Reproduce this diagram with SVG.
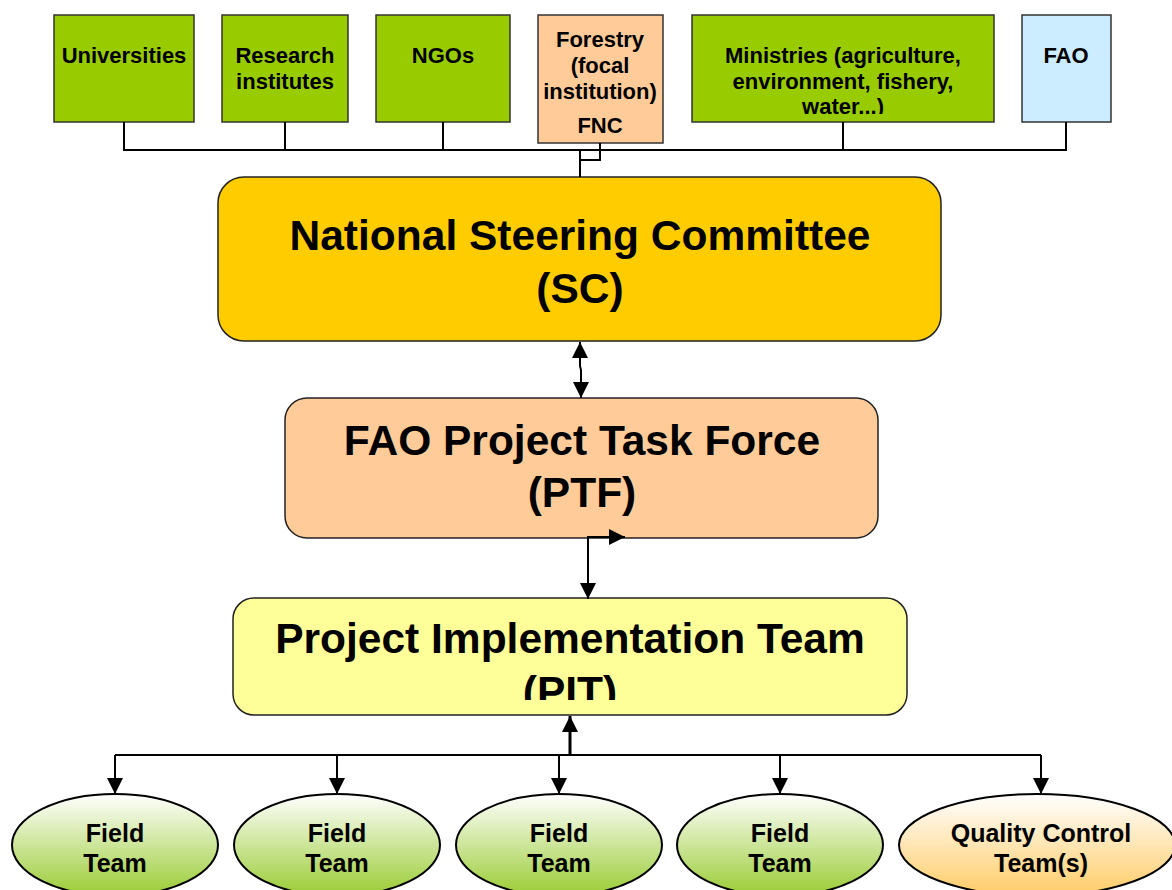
<svg xmlns="http://www.w3.org/2000/svg" width="1172" height="890" viewBox="0 0 1172 890">
<style>
  text { font-family: "Liberation Sans", Arial, sans-serif; font-weight: bold; fill: #000; text-anchor: middle; }
  .small { font-size: 22px; }
  .big { font-size: 42.5px; }
  .ell { font-size: 25px; }
  .box { stroke: #333; stroke-width: 1.5; }
  .green { fill: #99CC00; }
  .salmon { fill: #FFCC99; }
  .blue { fill: #CCECFF; }
  .main { stroke: #222; stroke-width: 1.5; }
  .conn { fill: none; stroke: #000; stroke-width: 2; }
  .ellipse { stroke: #000; stroke-width: 2; }
</style>
<defs>
  <marker id="arrow" viewBox="0 0 10 10" refX="10" refY="5" markerWidth="16" markerHeight="16" markerUnits="userSpaceOnUse" orient="auto-start-reverse">
    <path d="M0,0 L10,5 L0,10 z" fill="#000"/>
  </marker>
  <linearGradient id="gGreen" x1="0" y1="0" x2="0" y2="1">
    <stop offset="0" stop-color="#FFFFFF"/>
    <stop offset="1" stop-color="#99CC33"/>
  </linearGradient>
  <linearGradient id="gOrange" x1="0" y1="0" x2="0" y2="1">
    <stop offset="0" stop-color="#FFFFFF"/>
    <stop offset="1" stop-color="#FFCC66"/>
  </linearGradient>
  <clipPath id="clipMin"><rect x="692" y="15" width="302" height="99"/></clipPath>
  <clipPath id="clipPIT"><rect x="233" y="598" width="674" height="102"/></clipPath>
</defs>

<g id="universities">
  <rect class="box green" x="54" y="15" width="140" height="107"/>
  <text class="small" x="124" y="63">Universities</text>
</g>
<g id="research">
  <rect class="box green" x="222" y="15" width="126" height="107"/>
  <text class="small" x="285" y="63">Research</text>
  <text class="small" x="285" y="89">institutes</text>
</g>
<g id="ngos">
  <rect class="box green" x="376" y="15" width="134" height="107"/>
  <text class="small" x="443" y="63">NGOs</text>
</g>
<g id="forestry">
  <rect class="box salmon" x="538" y="15" width="125" height="128"/>
  <text class="small" x="600" y="47">Forestry</text>
  <text class="small" x="600" y="73">(focal</text>
  <text class="small" x="600" y="99">institution)</text>
  <text class="small" x="600" y="133">FNC</text>
</g>
<g id="ministries">
  <rect class="box green" x="692" y="15" width="302" height="107"/>
  <g clip-path="url(#clipMin)">
    <text class="small" x="843" y="63">Ministries (agriculture,</text>
    <text class="small" x="843" y="89">environment, fishery,</text>
    <text class="small" x="843" y="114">water...)</text>
  </g>
</g>
<g id="fao">
  <rect class="box blue" x="1022" y="15" width="89" height="107"/>
  <text class="small" x="1066" y="63">FAO</text>
</g>

<g id="sc">
  <rect class="main" x="218" y="177" width="723" height="164" rx="26" ry="26" fill="#FFCC00"/>
  <text class="big" x="580" y="250">National Steering Committee</text>
  <text class="big" x="580" y="303">(SC)</text>
</g>
<g id="ptf">
  <rect class="main" x="285" y="398" width="593" height="140" rx="22" ry="22" fill="#FFCC99"/>
  <text class="big" x="582" y="455">FAO Project Task Force</text>
  <text class="big" x="582" y="507">(PTF)</text>
</g>
<g id="pit">
  <rect class="main" x="233" y="598" width="674" height="117" rx="21" ry="21" fill="#FFFF99"/>
  <g clip-path="url(#clipPIT)">
    <text class="big" x="570" y="653">Project Implementation Team</text>
    <text class="big" x="570" y="706">(PIT)</text>
  </g>
</g>

<g id="field1">
  <ellipse class="ellipse" cx="115" cy="845" rx="103" ry="51" fill="url(#gGreen)"/>
  <text class="ell" x="115" y="842">Field</text>
  <text class="ell" x="115" y="872">Team</text>
</g>
<g id="field2">
  <ellipse class="ellipse" cx="337" cy="845" rx="103" ry="51" fill="url(#gGreen)"/>
  <text class="ell" x="337" y="842">Field</text>
  <text class="ell" x="337" y="872">Team</text>
</g>
<g id="field3">
  <ellipse class="ellipse" cx="559" cy="845" rx="103" ry="51" fill="url(#gGreen)"/>
  <text class="ell" x="559" y="842">Field</text>
  <text class="ell" x="559" y="872">Team</text>
</g>
<g id="field4">
  <ellipse class="ellipse" cx="780" cy="845" rx="103" ry="51" fill="url(#gGreen)"/>
  <text class="ell" x="780" y="842">Field</text>
  <text class="ell" x="780" y="872">Team</text>
</g>
<g id="qc">
  <ellipse class="ellipse" cx="1037" cy="845" rx="138" ry="51" fill="url(#gOrange)"/>
  <text class="ell" x="1041" y="842">Quality Control</text>
  <text class="ell" x="1041" y="872">Team(s)</text>
</g>

<g id="connectors">
  <path class="conn" d="M124,122 V150 H1066 V122"/>
  <path class="conn" d="M285,122 V150"/>
  <path class="conn" d="M443,122 V150"/>
  <path class="conn" d="M843,122 V150"/>
  <path class="conn" d="M600,143 V160 H580"/>
  <path class="conn" d="M580,150 V177"/>
  <path class="conn" d="M580,342 V366 L581,370 V398" marker-start="url(#arrow)" marker-end="url(#arrow)"/>
  <path class="conn" d="M625,537 H588 V599" marker-start="url(#arrow)" marker-end="url(#arrow)"/>
  <path class="conn" style="stroke-width:3" d="M570,755 V716" marker-end="url(#arrow)"/>
  <path class="conn" d="M115,755 H1041"/>
  <path class="conn" d="M115,755 V794" marker-end="url(#arrow)"/>
  <path class="conn" d="M337,755 V794" marker-end="url(#arrow)"/>
  <path class="conn" d="M559,755 V794" marker-end="url(#arrow)"/>
  <path class="conn" d="M780,755 V794" marker-end="url(#arrow)"/>
  <path class="conn" d="M1041,755 V794" marker-end="url(#arrow)"/>
</g>
</svg>
